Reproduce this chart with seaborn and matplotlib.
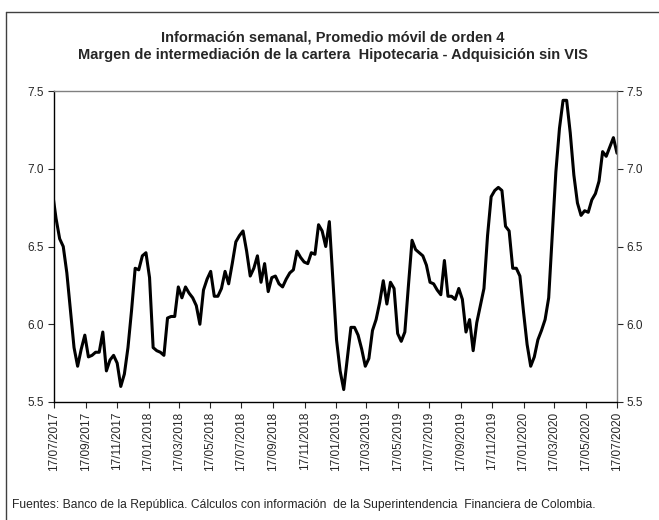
import matplotlib
matplotlib.use('Agg')
import matplotlib.pyplot as plt
from matplotlib.lines import Line2D
import seaborn as sns
import pandas as pd

# Margen semanal (promedio movil de orden 4)
margen = [
    6.85, 6.68, 6.55, 6.50, 6.33, 6.09, 5.85, 5.73, 5.84, 5.93,
    5.79, 5.80, 5.82, 5.82, 5.95, 5.70, 5.77, 5.80, 5.75, 5.60,
    5.68, 5.85, 6.09, 6.36, 6.35, 6.44, 6.46, 6.30, 5.85, 5.83,
    5.82, 5.80, 6.04, 6.05, 6.05, 6.24, 6.17, 6.24, 6.20, 6.17,
    6.12, 6.00, 6.22, 6.29, 6.34, 6.18, 6.18, 6.23, 6.34, 6.26,
    6.39, 6.53, 6.57, 6.60, 6.47, 6.31, 6.36, 6.44, 6.27, 6.39,
    6.21, 6.30, 6.31, 6.26, 6.24, 6.29, 6.33, 6.35, 6.47, 6.43,
    6.40, 6.39, 6.46, 6.45, 6.64, 6.60, 6.50, 6.66, 6.28, 5.90,
    5.70, 5.58, 5.78, 5.98, 5.98, 5.93, 5.84, 5.73, 5.78, 5.96,
    6.03, 6.14, 6.28, 6.13, 6.27, 6.23, 5.94, 5.89, 5.95, 6.25,
    6.54, 6.48, 6.46, 6.44, 6.38, 6.27, 6.26, 6.22, 6.19, 6.41,
    6.18, 6.18, 6.16, 6.23, 6.16, 5.95, 6.03, 5.83, 6.01, 6.12,
    6.23, 6.57, 6.82, 6.86, 6.88, 6.86, 6.63, 6.60, 6.36, 6.36,
    6.31, 6.08, 5.87, 5.73, 5.79, 5.90, 5.96, 6.03, 6.17, 6.57,
    6.98, 7.26, 7.44, 7.44, 7.23, 6.96, 6.78, 6.70, 6.73, 6.72,
    6.80, 6.84, 6.92, 7.11, 7.08, 7.14, 7.20, 7.10,
]
fechas = pd.date_range(end='2020-07-17', periods=len(margen), freq='7D')
ticks_x = pd.date_range(start='2017-07-17', periods=19, freq=pd.DateOffset(months=2))
ticks_y = [5.5, 6.0, 6.5, 7.0, 7.5]

titulo1 = 'Información semanal, Promedio móvil de orden 4'
titulo2 = 'Margen de intermediación de la cartera  Hipotecaria - Adquisición sin VIS'
fuente = ('Fuentes: Banco de la República. Cálculos con información  de la '
          'Superintendencia  Financiera de Colombia.')

sns.set_style('white')
plt.rcParams['font.family'] = ['Liberation Sans', 'DejaVu Sans']

fig = plt.figure(figsize=(6.59, 5.2), dpi=100)
ax = fig.add_axes([54 / 659, 1 - 402 / 520, 563 / 659, 311 / 520])

df = pd.DataFrame({'fecha': fechas, 'margen': margen})
sns.lineplot(data=df, x='fecha', y='margen', ax=ax, color='black', linewidth=2.2)

ax.set_xlim(pd.Timestamp('2017-07-17'), pd.Timestamp('2020-07-17'))
ax.set_ylim(5.5, 7.5)
ax.set_yticks(ticks_y)
ax.set_yticklabels([f'{t:.1f}' for t in ticks_y])
ax.set_xticks(ticks_x)
ax.set_xticklabels([t.strftime('%d/%m/%Y') for t in ticks_x], rotation=90)
ax.set_xlabel('')
ax.set_ylabel('')
ax.tick_params(axis='y', left=True, right=True, labelleft=True, labelright=True,
               direction='out', length=4, width=0.8, labelsize=8.5, pad=3)
ax.tick_params(axis='x', bottom=True, direction='out', length=4, width=0.8,
               labelsize=8.5, pad=3)

for lado in ['left', 'bottom']:
    ax.spines[lado].set_color('black')
    ax.spines[lado].set_linewidth(1.0)
for lado in ['top', 'right']:
    ax.spines[lado].set_color('#808080')
    ax.spines[lado].set_linewidth(1.0)

fig.text(333 / 659, 1 - 38 / 520, titulo1, ha='center', va='center',
         fontsize=10.5, fontweight='bold')
fig.text(333 / 659, 1 - 55 / 520, titulo2, ha='center', va='center',
         fontsize=10.5, fontweight='bold')
fig.text(12 / 659, 1 - 505 / 520, fuente, ha='left', va='center', fontsize=8.7)

# marco exterior (solo se ven los bordes superior e izquierdo)
fig.add_artist(Line2D([6 / 659, 6 / 659], [0, 1 - 12 / 520], color='#404040', linewidth=1.0))
fig.add_artist(Line2D([6 / 659, 1], [1 - 12 / 520, 1 - 12 / 520], color='#404040', linewidth=1.0))

fig.savefig('out.png', dpi=100)
